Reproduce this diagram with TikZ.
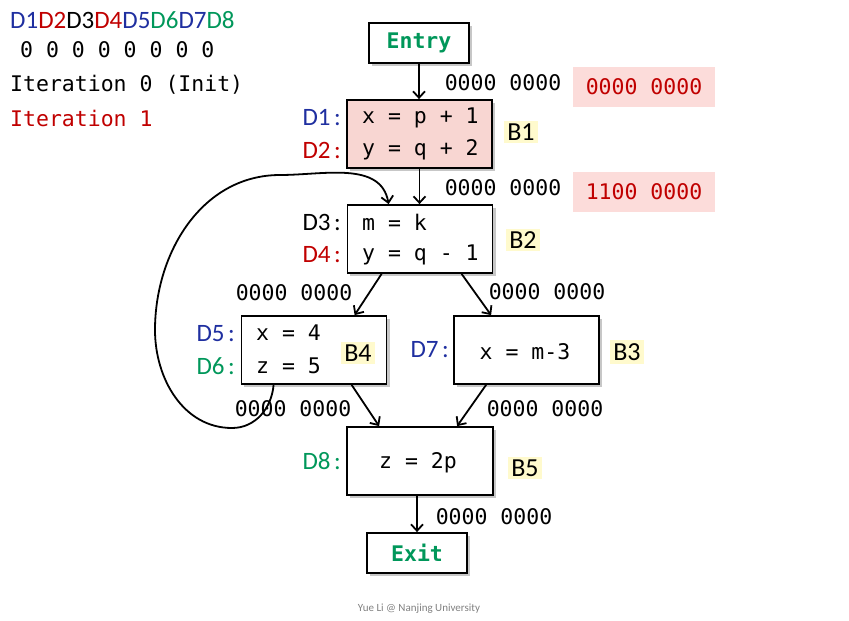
\documentclass[tikz,border=0pt]{standalone}
\usepackage{fontspec}
\setmainfont{Carlito}
\setmonofont{DejaVu Sans Mono}
\usetikzlibrary{arrows.meta,calc}
\definecolor{dblue}{HTML}{1F2FA0}
\definecolor{dred}{HTML}{C00000}
\definecolor{dgreen}{HTML}{00975A}
\definecolor{bpink}{HTML}{F8D6D2}
\definecolor{vpink}{HTML}{FCDCDA}
\definecolor{hyellow}{HTML}{FFFACD}
\newcommand{\dcol}{\hspace{3.5pt}:}
\tikzset{
  blk/.style={draw=black, line width=1.8pt, fill=white, minimum width=145pt, minimum height=68pt, inner sep=0pt},
  term/.style={draw=black, line width=1.8pt, fill=white, minimum width=100pt, minimum height=40pt, inner sep=0pt, font=\fontsize{21.5}{24}\selectfont\ttfamily\bfseries, text=dgreen},
  mono/.style={font=\fontsize{21.5}{24}\selectfont\ttfamily, inner sep=0pt},
  lab/.style={font=\fontsize{25}{27}\selectfont, inner sep=0pt},
  bl/.style={font=\fontsize{26}{28}\selectfont, fill=hyellow, inner sep=3pt},
  vec/.style={mono, fill=vpink, text=dred, minimum width=142pt, minimum height=40pt},
  arr/.style={line width=1.8pt, -{Straight Barb[length=6.5pt,width=12pt]}},
  shadow/.style={fill=black!22, draw=none}
}
\begin{document}
\begin{tikzpicture}[x=1pt,y=-1pt]
\useasboundingbox (0,0) rectangle (849,621);
% legend
\node[lab, anchor=west] (leg) at (10,20) {\textcolor{dblue}{D1}\textcolor{dred}{D2}D3\textcolor{dred}{D4}\textcolor{dblue}{D5}\textcolor{dgreen}{D6}\textcolor{dblue}{D7}\textcolor{dgreen}{D8}};
\node[mono, anchor=west] (zeros) at (20,50) {0 0 0 0 0 0 0 0};
\node[mono, anchor=west] (it0) at (10,85) {Iteration 0 (Init)};
\node[mono, anchor=west, text=dred] (it1) at (10,118) {Iteration 1};
% shadows
\foreach \cx/\cy/\w/\h in {419/43/100/40, 419.5/134/145/68, 420/239/146/68, 314/350/146/68, 526.5/350/145/68, 420/461/146/68, 417/553/100/40}{
  \fill[shadow] (\cx-\w/2+2.5,\cy-\h/2+2.5) rectangle (\cx+\w/2+2.5,\cy+\h/2+2.5);
}
% blocks
\node[term] (entry) at (419,43) {Entry};
\node[blk, fill=bpink] (b1) at (419.5,134) {};
\node[blk] (b2) at (420,239) {};
\node[blk] (b4) at (314,350) {};
\node[blk] (b3) at (526.5,350) {};
\node[blk, minimum width=146pt] (b5) at (420,461) {};
\node[term] (exit) at (417,553) {Exit};
% block texts
\node[mono, anchor=west] (t1a) at (362,118) {x = p + 1};
\node[mono, anchor=west] (t1b) at (362,150) {y = q + 2};
\node[mono, anchor=west] (t2a) at (362,222) {m = k};
\node[mono, anchor=west] (t2b) at (362,255) {y = q - 1};
\node[mono, anchor=west] (t4a) at (256,333) {x = 4};
\node[mono, anchor=west] (t4b) at (256,366) {z = 5};
\node[mono] (t3) at (525,352) {x = m-3};
\node[mono] (t5) at (418,463) {z = 2p};
% D labels
\node[lab, anchor=east, text=dblue] (d1) at (341,118) {D1\dcol};
\node[lab, anchor=east, text=dred] (d2) at (341,150) {D2\dcol};
\node[lab, anchor=east] (d3) at (341,222) {D3\dcol};
\node[lab, anchor=east, text=dred] (d4) at (341,255) {D4\dcol};
\node[lab, anchor=east, text=dblue] (d5) at (235,334) {D5\dcol};
\node[lab, anchor=east, text=dgreen] (d6) at (235,366) {D6\dcol};
\node[lab, anchor=east, text=dblue] (d7) at (449,350) {D7\dcol};
\node[lab, anchor=east, text=dgreen] (d8) at (341,461) {D8\dcol};
% B labels
\node[bl] (lb1) at (521,132) {B1};
\node[bl] (lb2) at (523,240) {B2};
\node[bl] (lb4) at (358,353) {B4};
\node[bl] (lb3) at (627,352) {B3};
\node[bl] (lb5) at (525,468) {B5};
% vectors
\node[mono] (v1) at (503,83) {0000 0000};
\node[vec] (v1n) at (644,87) {0000 0000};
\node[mono] (v2) at (503,188) {0000 0000};
\node[vec] (v2n) at (644,192) {1100 0000};
\node[mono] (v4) at (294,293) {0000 0000};
\node[mono] (v3) at (547,292) {0000 0000};
\node[mono] (v4o) at (293,409) {0000 0000};
\node[mono] (v3o) at (545,409) {0000 0000};
\node[mono] (v5) at (494,517) {0000 0000};
% edges
\draw[arr] (entry.south) -- (entry.south |- b1.north);
\draw[arr] (b1.south) -- (b1.south |- b2.north);
\draw[arr] ($(b2.south west)+(35,0)$) -- ($(b4.north west)+(114,0)$);
\draw[arr] ($(b2.south west)+(115,0)$) -- ($(b3.north west)+(38,0)$);
\draw[arr] ($(b4.south west)+(111,0)$) -- ($(b5.north west)+(33,0)$);
\draw[arr] ($(b3.south west)+(33,0)$) -- ($(b5.north west)+(111,0)$);
\draw[arr] (b5.south -| exit.north) -- (exit.north);
% back edge
\coordinate (ls) at ($(b4.south west)+(33,0)$);
\coordinate (le) at ($(b2.north west)+(42,0)$);
\draw[arr] (ls) to[out=-95,in=0] (232,428) to[out=180,in=-90] (155,330) to[out=90,in=180] (280,175) to[out=0,in=100] (le);
% footer
\node[font=\fontsize{11}{13}\selectfont, text=black!50, inner sep=0pt] (foot) at (419,609) {Yue Li @ Nanjing University};
\end{tikzpicture}
\end{document}
